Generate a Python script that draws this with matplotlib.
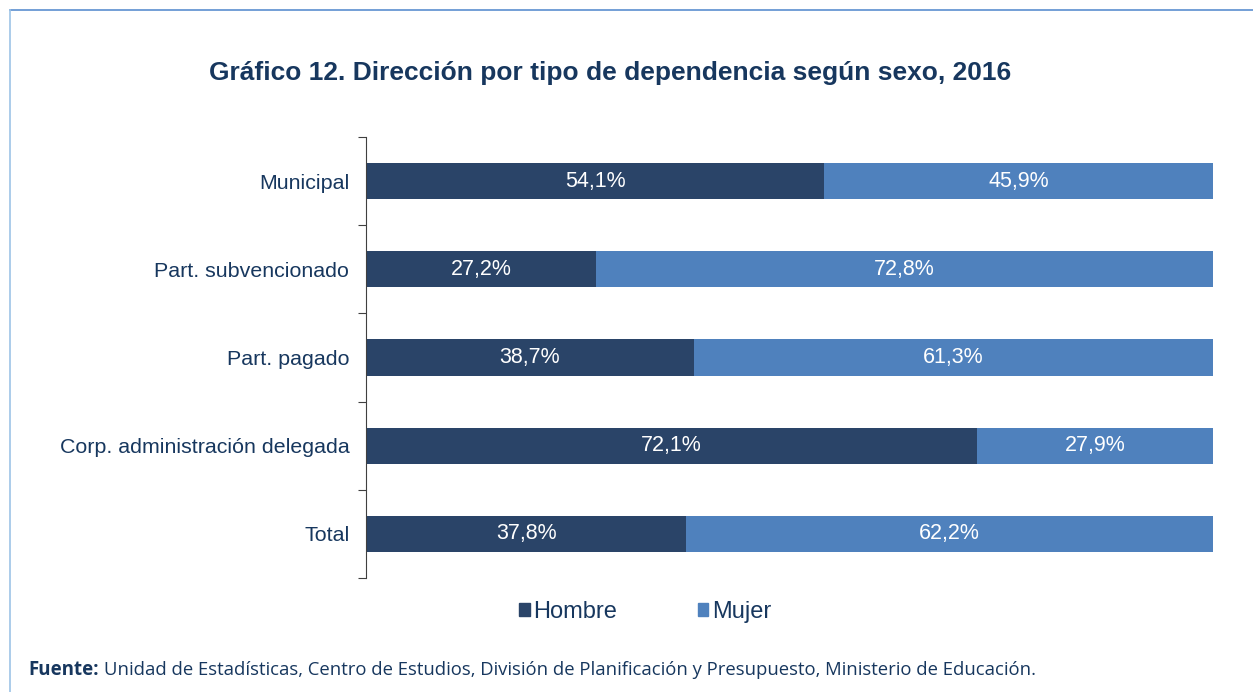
import matplotlib.pyplot as plt
from matplotlib.lines import Line2D
from matplotlib.patches import Patch

categorias = ["Municipal", "Part. subvencionado", "Part. pagado",
              "Corp. administración delegada", "Total"]
hombre = [54.1, 27.2, 38.7, 72.1, 37.8]
mujer = [45.9, 72.8, 61.3, 27.9, 62.2]

c_hombre = "#2A4468"
c_mujer = "#4F81BD"
c_texto = "#17375E"

plt.rcParams['font.family'] = ['Liberation Sans', 'DejaVu Sans']

fig = plt.figure(figsize=(12.53, 6.92), dpi=100)
ax = fig.add_axes([366 / 1253, 1 - 578 / 692, (1213 - 366) / 1253, (578 - 137) / 692])

y = list(range(len(categorias)))
ax.barh(y, hombre, height=0.41, color=c_hombre, edgecolor="none")
ax.barh(y, mujer, left=hombre, height=0.41, color=c_mujer, edgecolor="none")

for i in y:
    ax.text(hombre[i] / 2, i, f"{hombre[i]:.1f}%".replace(".", ","),
            ha="center", va="center", color="white", fontsize=15.5)
    ax.text(hombre[i] + mujer[i] / 2, i, f"{mujer[i]:.1f}%".replace(".", ","),
            ha="center", va="center", color="white", fontsize=15.5)

ax.set_xlim(0, 100)
ax.set_ylim(len(categorias) - 0.5, -0.5)
ax.set_xticks([])
ax.set_yticks([i - 0.5 for i in range(len(categorias) + 1)])
ax.set_yticklabels([])
ax.tick_params(axis="y", which="major", length=6, color="#404040")
ax.set_yticks(y, minor=True)
ax.set_yticklabels(categorias, minor=True, fontsize=15.4, color=c_texto)
ax.tick_params(axis="y", which="minor", length=0, pad=12)
for s in ["top", "right", "bottom"]:
    ax.spines[s].set_visible(False)
ax.spines["left"].set_color("#404040")

fig.text(0.487, 1 - 73 / 692, "Gráfico 12. Dirección por tipo de dependencia según sexo, 2016",
         ha="center", va="center", fontsize=19, fontweight="bold", color=c_texto)

handles = [Patch(color=c_hombre), Patch(color=c_mujer)]
fig.legend(handles, ["Hombre", "Mujer"], loc="center", bbox_to_anchor=(0.515, 1 - 612 / 692),
           ncol=2, frameon=False, fontsize=17, handlelength=0.45, handleheight=0.45,
           handletextpad=0.15, columnspacing=3.4, labelcolor=c_texto)

fig.text(28 / 1253, 1 - 670 / 692, "Fuente:", fontsize=13.5, fontweight="bold",
         color=c_texto, va="center", family=["Open Sans", "DejaVu Sans"])
fig.text(104 / 1253, 1 - 670 / 692,
         "Unidad de Estadísticas, Centro de Estudios, División de Planificación y Presupuesto, Ministerio de Educación.",
         fontsize=13.3, color=c_texto, va="center", family=["Open Sans", "DejaVu Sans"])

# marco azul claro arriba e izquierda
fig.add_artist(Line2D([10 / 1253, 1], [1 - 10 / 692] * 2, color="#5B8FD0", lw=1.2))
fig.add_artist(Line2D([10 / 1253] * 2, [0, 1 - 10 / 692], color="#9DC3E6", lw=1.2))

fig.savefig("out.png", dpi=100)
